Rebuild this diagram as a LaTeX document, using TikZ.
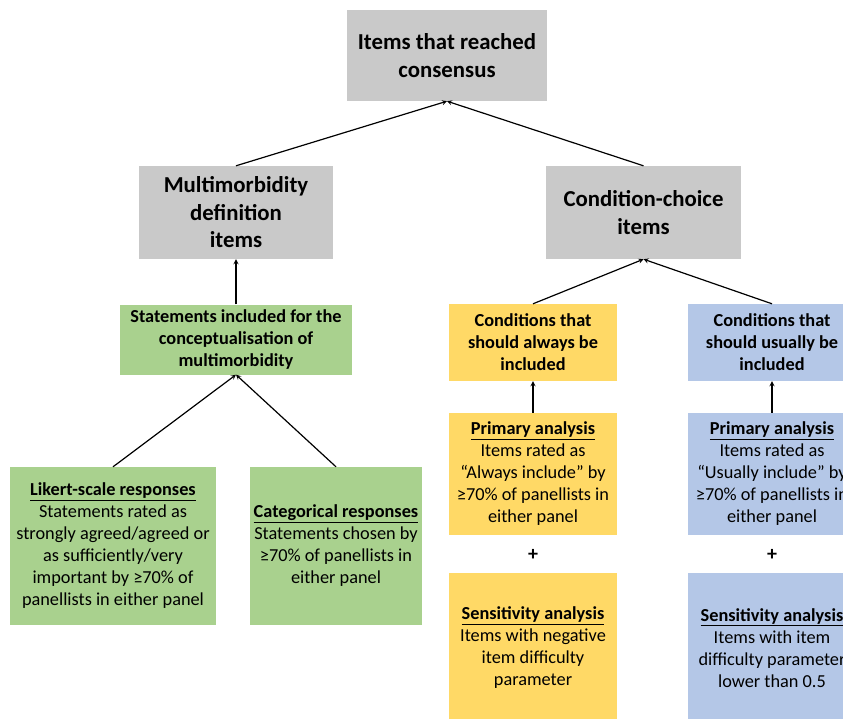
\documentclass[tikz,border=0pt]{standalone}
\usepackage{fontspec}
\setmainfont{Carlito}
\usepackage{xcolor}
\usetikzlibrary{arrows, positioning}
\tikzset{
    boxnode/.style = {rectangle, inner sep = 0em, node distance=0em, align=center,
      font=\fontsize{18.3}{22}\selectfont},
    graynode/.style = {boxnode, fill=gra, font=\fontsize{22.8}{27.5}\selectfont\bfseries},
    greennode/.style = {boxnode, fill=grn},
    yellownode/.style = {boxnode, fill=yel},
    bluenode/.style = {boxnode, fill=blu},
    headnode/.style = {font=\fontsize{18.3}{22}\selectfont\bfseries},
    textnode/.style  = {draw=none, fill=none, rectangle, inner sep = 0em,
      node distance=0em, font=\fontsize{20}{22}\selectfont\bfseries},
    connect/.style = {black, line width=1.2pt, -stealth}
}
\newcommand{\ulbf}[1]{\underline{\textbf{#1}}}
\definecolor{gra}{RGB}{201, 201, 201}
\definecolor{grn}{RGB}{169, 209, 142}
\definecolor{yel}{RGB}{255, 217, 102}
\definecolor{blu}{RGB}{180, 199, 231}

\begin{document}
\begin{tikzpicture}[x=1pt, y=-1pt, node distance=0em]
    \clip (0,0) rectangle (843,718);

    \node [name=top, graynode, minimum width=200pt, minimum height=91pt]
        at (447,55.5) {Items that reached\\consensus};

    \node [name=mm, graynode, minimum width=194pt, minimum height=93pt,
        below of = top, xshift=-211pt, yshift=-157pt] {Multimorbidity\\definition\\items};
    \node [name=cc, graynode, minimum width=195pt, minimum height=93pt,
        below of = top, xshift=196.5pt, yshift=-157pt] {Condition-choice\\items};

    % multimorbidity definition side
    \node [name=concept, greennode, headnode, minimum width=232pt, minimum height=70pt,
        below of = mm, yshift=-127pt] {Statements included for the\\conceptualisation of\\multimorbidity};
    \node [name=likert, greennode, minimum width=206pt, minimum height=158pt,
        below of = concept, xshift=-123pt, yshift=-206.5pt]
        {\ulbf{Likert-scale responses}\\Statements rated as\\strongly agreed/agreed or\\as sufficiently/very\\important by ≥70\% of\\panellists in either panel};
    \node [name=categ, greennode, minimum width=172pt, minimum height=158pt,
        below of = concept, xshift=100pt, yshift=-206.5pt]
        {\ulbf{Categorical responses}\\Statements chosen by\\≥70\% of panellists in\\either panel};

    % condition-choice side
    \node [name=always, yellownode, headnode, minimum width=168pt, minimum height=77pt,
        below of = cc, xshift=-110.5pt, yshift=-130pt] {Conditions that\\should always be\\included};
    \node [name=usually, bluenode, headnode, minimum width=168pt, minimum height=77pt,
        below of = cc, xshift=128.5pt, yshift=-130pt] {Conditions that\\should usually be\\included};

    \node [name=primA, yellownode, minimum width=168pt, minimum height=122pt,
        below of = always, yshift=-131.5pt]
        {\ulbf{Primary analysis}\\Items rated as\\“Always include” by\\≥70\% of panellists in\\either panel};
    \node [name=primU, bluenode, minimum width=168pt, minimum height=122pt,
        below of = usually, yshift=-131.5pt]
        {\ulbf{Primary analysis}\\Items rated as\\“Usually include” by\\≥70\% of panellists in\\either panel};

    \node [name=plusA, textnode, below of = primA, yshift=-81pt] {+};
    \node [name=plusU, textnode, below of = primU, yshift=-81pt] {+};

    \node [name=sensA, yellownode, minimum width=168pt, minimum height=150pt,
        below of = primA, yshift=-174pt]
        {\ulbf{Sensitivity analysis}\\Items with negative\\item difficulty\\parameter};
    \node [name=sensU, bluenode, minimum width=168pt, minimum height=150pt,
        below of = primU, yshift=-174pt]
        {\ulbf{Sensitivity analysis}\\Items with item\\difficulty parameter\\lower than 0.5};

    \draw (mm.north) edge[connect] (top.south);
    \draw (cc.north) edge[connect] (top.south);
    \draw (concept.north) edge[connect] (mm.south);
    \draw (likert.north) edge[connect] (concept.south);
    \draw (categ.north) edge[connect] (concept.south);
    \draw (always.north) edge[connect] (cc.south);
    \draw (usually.north) edge[connect] (cc.south);
    \draw (primA.north) edge[connect] (always.south);
    \draw (primU.north) edge[connect] (usually.south);
\end{tikzpicture}
\end{document}
